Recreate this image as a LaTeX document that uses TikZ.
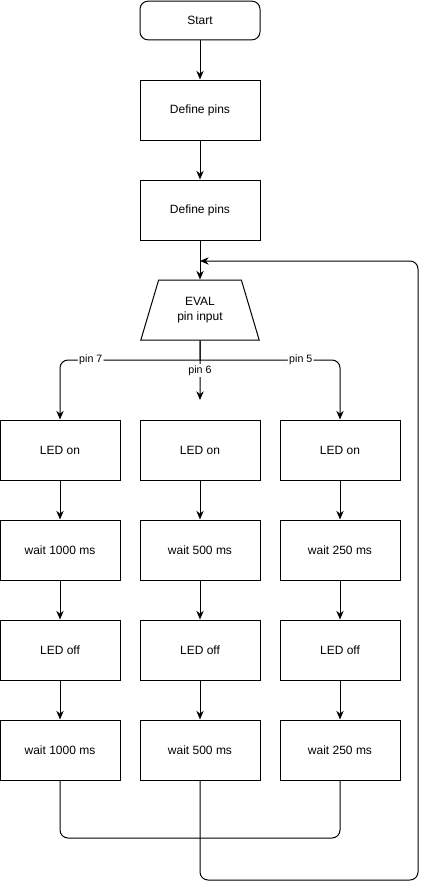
\documentclass[tikz,border=0pt]{standalone}
\usepackage{fontspec}
\setmainfont{Liberation Sans}
\usetikzlibrary{arrows.meta,shapes.geometric}

\begin{document}
\begin{tikzpicture}[x=0.75pt,y=-0.75pt,
                font=\fontsize{9}{11}\selectfont,
                box/.style={draw,line width=0.75pt,minimum width=90pt,minimum height=45pt,inner sep=0pt},
                flow/.style={line width=0.75pt,-{Stealth[length=6.5pt,width=5.5pt]}},
                plain/.style={line width=0.75pt},
                pinlbl/.style={fill=white,inner sep=1pt,font=\fontsize{8}{9}\selectfont}]
                \useasboundingbox (0,0) rectangle (429,889);
                %% start and setup
                \node[box,rounded corners=6pt,minimum height=29pt] (start) at (200,20.5) {Start};
                \node[box] (def1) at (200,110) {Define pins};
                \node[box] (def2) at (200,210) {Define pins};
                \node[box,trapezium,trapezium left angle=69,trapezium right angle=69,
                    trapezium stretches=true,minimum width=89pt,align=center] (eval) at (200,310) {EVAL\\pin input};
                \draw[flow] (start) -- (def1);
                \draw[flow] (def1) -- (def2);
                \draw[flow] (def2) -- (eval);
                %% branches
                \coordinate (split) at (200,360);
                \coordinate (mid) at (200,400);
                \foreach \c/\x/\ms in {a/60/1000,b/200/500,c/340/250} {
                    \node[box] (on\c) at (\x,450) {LED on};
                    \node[box] (waitA\c) at (\x,550) {wait \ms\ ms};
                    \node[box] (off\c) at (\x,650) {LED off};
                    \node[box] (waitB\c) at (\x,750) {wait \ms\ ms};
                    \draw[flow] (on\c) -- (waitA\c);
                    \draw[flow] (waitA\c) -- (off\c);
                    \draw[flow] (off\c) -- (waitB\c);
                }
                \draw[plain] (eval.south) -- (split);
                \draw[flow,rounded corners=6pt] (split) -| node[pinlbl,pos=0.39]{pin 7} (ona.north);
                \draw[flow,rounded corners=6pt] (split) -| node[pinlbl,pos=0.36]{pin 5} (onc.north);
                \draw[flow] (eval.south) -- node[pinlbl]{pin 6} (mid);
                %% back to the start of the loop
                \coordinate (merge) at (200,838);
                \coordinate (loopbr) at (418,880);
                \coordinate (join) at (200,261);
                \draw[plain,rounded corners=6pt] (waitBa.south) |- (merge) -| (waitBc.south);
                \draw[flow,rounded corners=6pt] (waitBb.south) |- (loopbr) |- (join);
            \end{tikzpicture}
\end{document}
